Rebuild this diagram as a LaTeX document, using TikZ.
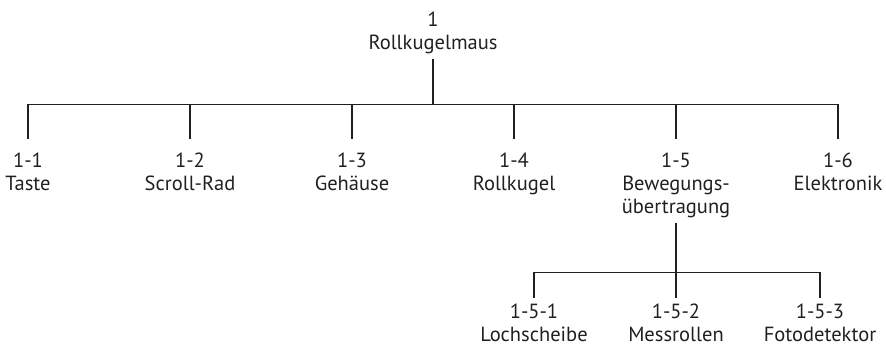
\documentclass[tikz,border=0pt]{standalone}
\usepackage{fontspec}
\setmainfont{PT Sans}
\usepackage{tikz}
\usetikzlibrary{positioning}
\definecolor{ink}{RGB}{35,31,32}

\begin{document}
\begin{tikzpicture}[x=1pt,y=1pt,
    part/.style={align=center, inner xsep=0pt, inner ysep=5pt, text=ink,
                 font=\fontsize{20.5}{23}\selectfont},
    link/.style={draw=ink, line width=1.6pt, shorten >=9pt},
    sublink/.style={draw=ink, line width=1.6pt, shorten >=1pt}]
        \useasboundingbox (0,0) rectangle (886,-348);

        \node [part, anchor=north] (Maus) at (433,-7) {1\\Rollkugelmaus};
        \node [part, on grid, below left=141pt and 405pt of Maus.north, anchor=north] (Taste) {1-1\\Taste};
        \node [part, on grid, right=162pt of Taste.north, anchor=north] (Rad) {1-2\\Scroll-Rad};
        \node [part, on grid, right=162pt of Rad.north, anchor=north] (Gehaeuse) {1-3\\Geh\"ause};
        \node [part, on grid, right=162pt of Gehaeuse.north, anchor=north] (Kugel) {1-4\\Rollkugel};
        \node [part, on grid, right=162pt of Kugel.north, anchor=north] (Bewegung) {1-5\\Bewegungs-\\\"ubertragung};
        \node [part, on grid, right=162pt of Bewegung.north, anchor=north] (Elektronik) {1-6\\Elektronik};
        \draw [link] (Maus.south) -- ++(0,-45) -| (Taste.north);
        \draw [link] (Maus.south) -- ++(0,-45) -| (Rad.north);
        \draw [link] (Maus.south) -- ++(0,-45) -| (Gehaeuse.north);
        \draw [link] (Maus.south) -- ++(0,-45) -| (Kugel.north);
        \draw [link] (Maus.south) -- ++(0,-45) -| (Bewegung.north);
        \draw [link] (Maus.south) -- ++(0,-45) -| (Elektronik.north);

        \node [part, on grid, below=151pt of Bewegung.north, anchor=north] (Mess) {1-5-2\\Messrollen};
        \node [part, on grid, left=142pt of Mess.north, anchor=north] (Loch) {1-5-1\\Lochscheibe};
        \node [part, on grid, right=144pt of Mess.north, anchor=north] (Foto) {1-5-3\\Fotodetektor};
        \draw [sublink] (Bewegung.south) -- ++(0,-49) -| (Loch.north);
        \draw [sublink] (Bewegung.south) -- ++(0,-49) -| (Mess.north);
        \draw [sublink] (Bewegung.south) -- ++(0,-49) -| (Foto.north);
\end{tikzpicture}
\end{document}
